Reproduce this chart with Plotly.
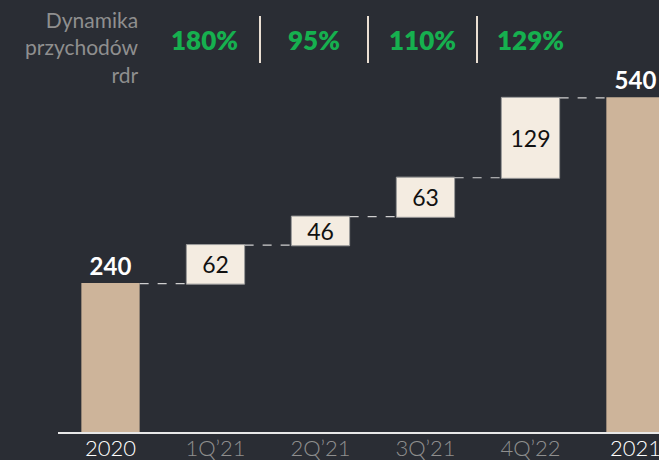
import plotly.graph_objects as go

categories = ["2020", "1Q’21", "2Q’21", "3Q’21", "4Q’22", "2021"]
values = [240, 62, 46, 63, 129, 540]
measures = ["absolute", "relative", "relative", "relative", "relative", "total"]
growth_labels = ["180%", "95%", "110%", "129%"]
header_text = "Dynamika<br>przychodów<br>rdr"

BG = "#2a2d34"
TOTAL_C = "#cdb49a"
STEP_C = "#f4ece1"
GREEN = "#16b04f"
GRAY = "#8f8f8f"
FONT = "Lato"

tick_text = [
    f"<span style='color:{'#ffffff' if m != 'relative' else GRAY}'>{c}</span>"
    for c, m in zip(categories, measures)
]

fig = go.Figure()
fig.add_trace(go.Waterfall(
    x=list(range(len(categories))),
    y=values,
    measure=measures,
    text=[str(v) for v in values],
    textposition=["outside" if m != "relative" else "inside" for m in measures],
    outsidetextfont=dict(color="#ffffff", size=24, family=FONT, weight="bold"),
    insidetextfont=dict(color="#111111", size=23, family=FONT),
    insidetextanchor="middle",
    textangle=0,
    constraintext="none",
    cliponaxis=False,
    width=0.555,
    increasing=dict(marker=dict(color=STEP_C, line=dict(color="#9a9a9a", width=1))),
    totals=dict(marker=dict(color=TOTAL_C, line=dict(width=0))),
    connector=dict(mode="between", line=dict(color="#cfcfcf", width=1.2, dash="dash")),
    hoverinfo="skip",
))

# header annotations (positions in layout space)
pct_px = [204, 314, 422, 530]
sep_px = [260, 368, 477]
L, W, TOP, BOT = 58, 601, 80, 432
H = BOT - TOP

def px_x(p):
    return (p - L) / W

def px_y(p):
    return (BOT - p) / H

annotations = []
for lab, p in zip(growth_labels, pct_px):
    annotations.append(dict(
        x=px_x(p), y=px_y(40), xref="paper", yref="paper",
        text=lab, showarrow=False, xanchor="center", yanchor="middle",
        font=dict(color=GREEN, size=26, family=FONT, weight=800),
    ))
annotations.append(dict(
    x=px_x(141), y=px_y(47), xref="paper", yref="paper",
    text=header_text, showarrow=False, xanchor="right", yanchor="middle",
    align="right", font=dict(color=GRAY, size=21, family=FONT),
))

shapes = []
for p in sep_px:
    shapes.append(dict(
        type="line", xref="paper", yref="paper",
        x0=px_x(p), x1=px_x(p), y0=px_y(16), y1=px_y(63),
        line=dict(color="#eadfd3", width=2),
    ))

fig.update_layout(
    width=659, height=460,
    paper_bgcolor=BG, plot_bgcolor=BG,
    margin=dict(l=L, r=0, t=TOP, b=460 - BOT, autoexpand=False),
    showlegend=False,
    annotations=annotations,
    shapes=shapes,
    xaxis=dict(
        range=[-0.5, 5.224],
        tickmode="array",
        tickvals=list(range(len(categories))),
        ticktext=tick_text,
        tickfont=dict(size=22, family=FONT, color="#ffffff", weight=300),
        ticklabeloverflow="allow",
        ticklabelstandoff=-4,
        automargin=False,
        showgrid=False, zeroline=False,
        showline=True, linecolor="#e8e8e8", linewidth=2,
        ticks="", fixedrange=True,
    ),
    yaxis=dict(
        range=[0, 569], automargin=False,
        visible=False, showgrid=False, zeroline=False, fixedrange=True,
    ),
)

fig.write_html(
    "out.html",
    config={"displayModeBar": False},
    post_script=(
        "document.body.style.margin='0';"
        "document.body.style.padding='0';"
        "document.body.style.background='" + BG + "';"
        "document.body.style.overflow='hidden';"
    ),
)
